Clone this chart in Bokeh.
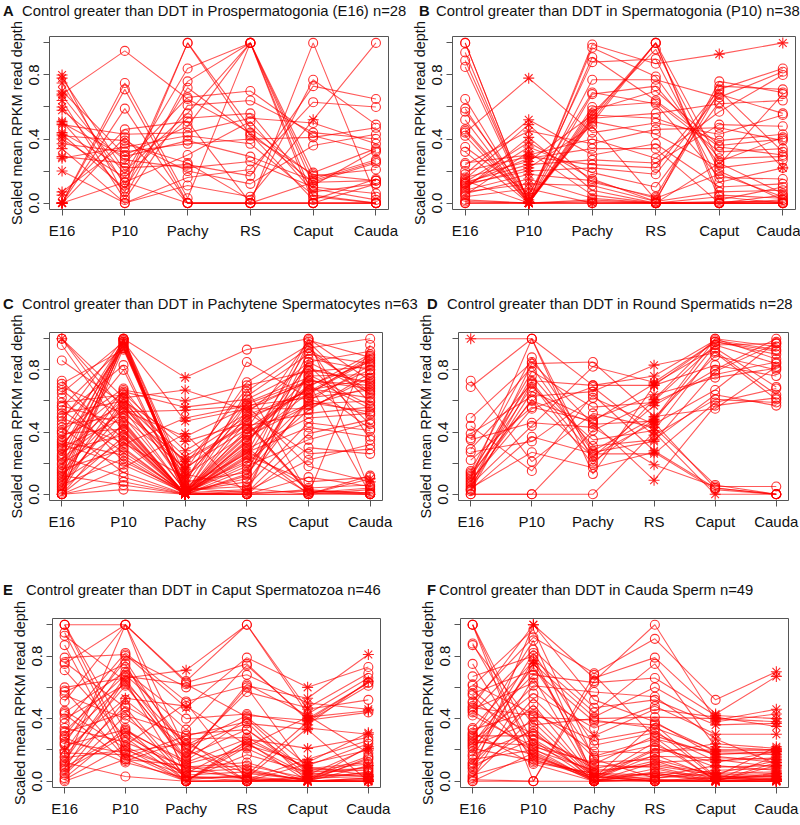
from bokeh.plotting import figure
from bokeh.models import Range1d, FixedTicker, PrintfTickFormatter, Div
from bokeh.layouts import column, row
from bokeh.embed import file_html
from bokeh.resources import INLINE

STAGES = ["E16", "P10", "Pachy", "RS", "Caput", "Cauda"]
Y_MAJOR = [0.0, 0.4, 0.8]
Y_MINOR = [0.2, 0.6, 1.0]
Y_LABEL = "Scaled mean RPKM read depth"

# ---------------- Panel A ----------------
A_TITLE = "Control greater than DDT in Prospermatogonia (E16) n=28"
A_ROWS = [
    [0.80, 0.04, 0.76, 1.00, 0.15, 0.27], [0.78, 0.20, 0.56, 1.00, 0.11, 0.33],
    [0.75, 0.11, 1.00, 0.42, 0.18, 0.14], [0.70, 0.30, 0.48, 1.00, 0.04, 0.00],
    [0.68, 0.95, 0.65, 0.44, 0.13, 0.25], [0.67, 0.18, 0.84, 1.00, 0.19, 0.34],
    [0.64, 0.02, 0.61, 0.64, 0.44, 0.40], [0.60, 0.13, 0.30, 0.51, 0.07, 0.12],
    [0.58, 0.27, 0.22, 0.26, 0.10, 0.06], [0.51, 0.07, 1.00, 0.47, 0.17, 0.21],
    [0.50, 0.29, 0.39, 0.29, 0.14, 0.26], [0.49, 0.43, 0.44, 0.53, 0.50, 0.37],
    [0.44, 0.22, 0.24, 0.17, 0.73, 0.65], [0.43, 0.09, 0.72, 0.43, 0.02, 0.15],
    [0.42, 0.39, 0.20, 0.12, 0.36, 0.43], [0.40, 0.16, 0.53, 0.56, 0.09, 0.02],
    [0.37, 0.32, 0.37, 0.40, 0.41, 0.47], [0.34, 0.00, 0.16, 0.21, 0.63, 0.60],
    [0.29, 0.25, 0.66, 0.70, 0.42, 0.32], [0.28, 0.35, 0.42, 0.37, 0.05, 0.00],
    [0.20, 0.00, 0.11, 0.04, 0.52, 1.00], [0.07, 0.37, 0.25, 0.02, 0.77, 0.49],
    [0.05, 0.46, 0.51, 0.00, 1.00, 0.04], [0.00, 0.75, 0.03, 1.00, 0.00, 0.00],
    [0.00, 0.71, 0.00, 0.00, 0.13, 0.14], [0.00, 0.59, 0.00, 0.00, 0.00, 0.00],
    [0.00, 0.41, 0.00, 0.00, 0.00, 0.12], [0.00, 0.13, 0.00, 0.00, 0.00, 0.00],
]
A_STAR_COLS = [0]
A_STAR_EXTRA = [(20, 4)]
A_STAR_SKIP = []

# ---------------- Panel B ----------------
B_TITLE = "Control greater than DDT in Spermatogonia (P10) n=38"
B_ROWS = [
    [1.00, 0.00, 0.54, 1.00, 0.26, 0.41], [1.00, 0.00, 0.99, 0.87, 0.93, 1.00],
    [0.94, 0.00, 0.91, 0.64, 0.35, 0.30], [0.89, 0.01, 0.52, 1.00, 0.05, 0.03],
    [0.85, 0.00, 0.97, 0.79, 0.24, 0.68], [0.65, 0.00, 0.56, 0.96, 0.20, 0.02],
    [0.59, 0.00, 0.77, 0.77, 0.66, 0.82], [0.57, 0.04, 0.88, 0.90, 0.13, 0.22],
    [0.52, 0.00, 0.60, 0.63, 0.32, 0.34], [0.46, 0.02, 0.50, 1.00, 0.02, 0.10],
    [0.45, 0.00, 0.68, 0.73, 0.28, 0.29], [0.44, 0.78, 0.44, 0.50, 0.43, 0.55],
    [0.42, 0.00, 0.58, 0.70, 0.36, 0.40], [0.35, 0.06, 0.69, 0.62, 0.16, 0.15],
    [0.32, 0.00, 0.53, 0.56, 0.62, 0.64], [0.25, 0.30, 0.40, 0.28, 0.57, 0.80],
    [0.24, 0.45, 0.37, 0.46, 0.47, 0.39], [0.20, 0.29, 0.24, 0.22, 0.71, 0.84],
    [0.18, 0.52, 0.30, 0.37, 0.10, 0.12], [0.16, 0.26, 0.55, 0.53, 0.39, 0.43],
    [0.15, 0.49, 0.13, 0.04, 0.73, 0.71], [0.14, 0.00, 0.51, 0.43, 0.22, 0.27],
    [0.13, 0.24, 0.27, 0.25, 0.49, 0.48], [0.13, 0.38, 0.15, 0.01, 0.76, 0.69],
    [0.12, 0.20, 0.22, 0.18, 0.68, 0.56], [0.12, 0.28, 0.34, 0.34, 0.00, 0.05],
    [0.11, 0.22, 0.48, 0.02, 0.70, 0.32], [0.10, 0.35, 0.19, 0.10, 0.63, 0.22],
    [0.09, 0.41, 0.08, 0.00, 0.25, 0.06], [0.08, 0.18, 0.14, 0.03, 0.18, 0.04],
    [0.07, 0.12, 0.11, 0.01, 0.07, 0.08], [0.06, 0.15, 0.03, 0.00, 0.04, 0.00],
    [0.05, 0.32, 0.05, 0.00, 0.01, 0.01], [0.04, 0.09, 0.00, 0.00, 0.00, 0.00],
    [0.02, 0.00, 0.02, 0.00, 0.00, 0.02], [0.01, 0.00, 0.01, 0.00, 0.00, 0.00],
    [0.00, 0.00, 0.00, 0.00, 0.00, 0.00], [0.00, 0.00, 0.00, 0.00, 0.00, 0.00],
]
B_STAR_COLS = [1]
B_STAR_EXTRA = [(1, 4), (1, 5), (27, 5), (33, 2)]
B_STAR_SKIP = []

# ---------------- Panel C ----------------
C_TITLE = "Control greater than DDT in Pachytene Spermatocytes n=63"
C_ROWS = [
    [1.00, 0.55, 0.02, 0.33, 0.83, 0.45], [1.00, 0.47, 0.00, 0.51, 0.66, 0.87],
    [1.00, 0.62, 0.05, 0.26, 1.00, 0.02], [0.96, 0.40, 0.01, 0.58, 0.73, 0.70],
    [0.86, 0.58, 0.13, 0.04, 0.00, 0.96], [0.73, 0.30, 0.00, 0.66, 0.94, 0.64],
    [0.71, 0.93, 0.03, 0.21, 0.60, 0.83], [0.69, 0.52, 0.22, 0.45, 0.01, 0.00],
    [0.67, 0.36, 0.00, 0.12, 0.77, 0.57], [0.65, 0.98, 0.47, 0.55, 0.55, 0.75],
    [0.62, 0.21, 0.02, 0.38, 0.69, 0.90], [0.59, 0.64, 0.15, 0.72, 0.96, 0.35],
    [0.57, 0.45, 0.00, 0.29, 0.49, 0.52], [0.56, 0.95, 0.06, 0.85, 0.62, 0.67],
    [0.54, 0.27, 0.01, 0.00, 0.87, 0.80], [0.52, 0.60, 0.34, 0.46, 0.02, 0.01],
    [0.50, 0.83, 0.00, 0.16, 0.71, 0.42], [0.49, 0.33, 0.11, 0.53, 0.26, 0.29],
    [0.47, 1.00, 0.75, 0.93, 1.00, 0.73], [0.45, 0.50, 0.03, 0.40, 0.58, 0.60],
    [0.43, 0.14, 0.00, 0.24, 0.85, 0.92], [0.41, 0.68, 0.19, 0.68, 0.00, 0.12],
    [0.40, 0.94, 0.04, 0.01, 0.39, 0.48], [0.39, 0.42, 0.00, 0.35, 0.65, 0.86],
    [0.37, 0.57, 0.09, 0.59, 0.75, 0.55], [0.35, 0.99, 0.02, 0.10, 0.92, 0.66],
    [0.34, 0.25, 0.00, 0.47, 0.01, 0.00], [0.33, 0.66, 0.56, 0.61, 0.81, 0.71],
    [0.32, 0.19, 0.01, 0.20, 0.54, 0.78], [0.31, 0.80, 0.00, 0.00, 0.30, 0.26],
    [0.30, 0.49, 0.17, 0.42, 0.68, 0.62], [0.29, 0.97, 0.05, 0.63, 0.90, 0.84],
    [0.28, 0.38, 0.00, 0.30, 0.00, 0.10], [0.26, 0.61, 0.24, 0.50, 0.64, 0.89],
    [0.25, 1.00, 0.08, 0.14, 0.98, 0.59], [0.24, 0.11, 0.00, 0.02, 0.22, 0.32],
    [0.23, 0.54, 0.37, 0.56, 0.72, 0.00], [0.22, 0.96, 0.01, 0.37, 0.57, 0.69],
    [0.20, 0.44, 0.00, 0.27, 0.43, 0.37], [0.19, 0.67, 0.60, 0.70, 0.79, 0.82],
    [0.17, 1.00, 0.02, 0.08, 0.61, 0.51], [0.16, 0.29, 0.00, 0.23, 0.01, 0.04],
    [0.15, 0.56, 0.16, 0.48, 0.67, 0.74], [0.14, 0.95, 0.03, 0.05, 0.46, 0.41],
    [0.13, 0.41, 0.00, 0.34, 0.76, 0.77], [0.12, 0.06, 0.00, 0.00, 0.00, 0.03],
    [0.11, 0.65, 0.28, 0.52, 0.85, 0.65], [0.10, 0.99, 0.01, 0.18, 0.35, 0.46],
    [0.09, 0.34, 0.00, 0.13, 0.59, 0.53], [0.08, 0.53, 0.54, 0.57, 0.18, 0.08],
    [0.07, 1.00, 0.12, 0.39, 0.70, 0.85], [0.06, 0.23, 0.00, 0.28, 0.04, 0.06],
    [0.05, 0.59, 0.21, 0.44, 0.52, 0.56], [0.04, 0.97, 0.01, 0.03, 0.80, 0.72],
    [0.03, 0.37, 0.00, 0.25, 0.08, 0.11], [0.02, 0.62, 0.67, 0.54, 0.73, 0.68],
    [0.01, 0.94, 0.02, 0.31, 0.94, 1.00], [0.00, 0.46, 0.00, 0.00, 0.03, 0.00],
    [0.00, 0.17, 0.39, 0.00, 0.11, 0.05], [0.00, 0.98, 0.00, 0.42, 0.99, 0.88],
    [0.00, 0.03, 0.00, 0.01, 0.02, 0.01], [0.00, 0.32, 0.49, 0.57, 0.62, 0.80],
    [0.00, 0.08, 0.00, 0.00, 0.00, 0.00],
]
C_STAR_COLS = [2]
C_STAR_EXTRA = [(0, 0), (32, 5), (49, 5)]
C_STAR_SKIP = []

# ---------------- Panel D ----------------
D_TITLE = "Control greater than DDT in Round Spermatids n=28"
D_ROWS = [
    [1.00, 1.00, 0.21, 0.48, 1.00, 0.95], [0.73, 0.21, 0.52, 0.43, 0.06, 0.00],
    [0.69, 1.00, 0.70, 0.70, 0.98, 0.92], [0.49, 0.85, 0.45, 0.47, 0.96, 0.84],
    [0.44, 0.15, 0.64, 0.28, 0.04, 0.00], [0.39, 0.63, 0.66, 0.83, 0.91, 0.61],
    [0.36, 0.82, 0.27, 0.34, 0.79, 0.97], [0.35, 0.46, 0.43, 0.19, 0.05, 0.05],
    [0.29, 0.71, 0.19, 0.61, 1.00, 0.87], [0.27, 0.34, 0.62, 0.45, 0.67, 0.98],
    [0.22, 0.56, 0.47, 0.71, 0.94, 0.69], [0.15, 0.88, 0.28, 0.49, 0.89, 0.80],
    [0.14, 0.73, 0.70, 0.76, 0.99, 0.93], [0.13, 0.60, 0.46, 0.09, 0.57, 0.62],
    [0.12, 0.79, 0.56, 0.59, 0.77, 0.85], [0.11, 0.69, 0.35, 0.41, 0.92, 0.64],
    [0.10, 1.00, 0.13, 0.70, 0.83, 0.76], [0.09, 0.55, 0.69, 0.38, 0.61, 0.59],
    [0.08, 0.61, 0.24, 0.57, 0.80, 1.00], [0.07, 0.76, 0.31, 0.35, 0.64, 0.57],
    [0.06, 0.44, 0.82, 0.72, 0.98, 0.90], [0.05, 0.66, 0.48, 0.64, 0.75, 0.81],
    [0.04, 0.27, 0.17, 0.27, 0.03, 0.00], [0.03, 0.37, 0.26, 0.26, 0.59, 0.68],
    [0.03, 0.84, 0.85, 0.50, 0.55, 0.82], [0.02, 0.72, 0.25, 0.46, 0.04, 0.00],
    [0.00, 0.00, 0.41, 0.60, 0.96, 0.97], [0.00, 0.00, 0.00, 0.40, 0.00, 0.00],
]
D_STAR_COLS = [3]
D_STAR_EXTRA = [(0, 0), (27, 4)]
D_STAR_SKIP = []

# ---------------- Panel E ----------------
E_TITLE = "Control greater than DDT in Caput Spermatozoa n=46"
E_ROWS = [
    [1.00, 0.22, 0.05, 0.25, 0.00, 0.10], [1.00, 0.32, 0.13, 0.40, 0.05, 0.03],
    [1.00, 1.00, 0.01, 0.04, 0.38, 0.61], [0.95, 0.19, 0.24, 0.07, 0.00, 0.02],
    [0.93, 0.64, 0.00, 0.22, 0.41, 0.45], [0.87, 0.14, 0.10, 0.01, 0.00, 0.00],
    [0.79, 0.81, 0.47, 0.79, 0.60, 0.73], [0.76, 0.47, 0.03, 0.00, 0.11, 0.20],
    [0.75, 1.00, 0.20, 0.05, 0.01, 0.06], [0.71, 0.28, 0.00, 0.26, 0.09, 0.04],
    [0.60, 0.66, 0.71, 1.00, 0.43, 0.66], [0.58, 0.15, 0.29, 0.38, 0.00, 0.01],
    [0.57, 0.75, 0.07, 0.02, 0.34, 0.30], [0.55, 0.40, 0.16, 0.33, 0.07, 0.11],
    [0.51, 1.00, 0.64, 1.00, 0.46, 0.52], [0.45, 0.21, 0.00, 0.24, 0.04, 0.09],
    [0.44, 0.70, 0.40, 0.43, 0.36, 0.64], [0.43, 0.13, 0.26, 0.00, 0.02, 0.16],
    [0.40, 0.62, 0.12, 0.27, 0.21, 0.28], [0.37, 0.82, 0.51, 0.61, 0.53, 0.81],
    [0.34, 0.25, 0.09, 0.12, 0.00, 0.00], [0.32, 0.68, 0.33, 0.74, 0.40, 0.63],
    [0.31, 0.44, 0.01, 0.17, 0.06, 0.07], [0.29, 0.77, 0.18, 0.57, 0.47, 0.69],
    [0.28, 0.12, 0.02, 0.03, 0.00, 0.22], [0.27, 0.63, 0.23, 0.42, 0.39, 0.44],
    [0.25, 0.18, 0.00, 0.01, 0.14, 0.26], [0.24, 0.80, 0.60, 0.68, 0.50, 0.46],
    [0.23, 0.33, 0.11, 0.21, 0.03, 0.05], [0.20, 0.53, 0.48, 0.23, 0.12, 0.31],
    [0.19, 0.73, 0.22, 0.37, 0.33, 0.00], [0.18, 0.17, 0.04, 0.06, 0.01, 0.14],
    [0.16, 0.61, 0.14, 0.62, 0.42, 0.18], [0.15, 0.20, 0.06, 0.08, 0.00, 0.02],
    [0.13, 0.67, 0.62, 0.41, 0.10, 0.24], [0.12, 0.03, 0.00, 0.00, 0.00, 0.00],
    [0.11, 0.48, 0.27, 0.28, 0.08, 0.12], [0.10, 1.00, 0.63, 0.75, 0.39, 0.63],
    [0.09, 0.31, 0.03, 0.02, 0.00, 0.15], [0.08, 0.65, 0.15, 0.60, 0.07, 0.08],
    [0.07, 0.29, 0.08, 0.10, 0.02, 0.03], [0.05, 0.52, 0.21, 0.00, 0.00, 0.00],
    [0.04, 0.42, 0.30, 0.33, 0.04, 0.21], [0.02, 0.34, 0.00, 0.00, 0.03, 0.04],
    [0.01, 0.23, 0.50, 0.01, 0.00, 0.01], [0.00, 0.14, 0.00, 0.00, 0.00, 0.00],
]
E_STAR_COLS = [4]
E_STAR_EXTRA = [(10, 2), (6, 2), (29, 1), (29, 0), (19, 5), (16, 5), (4, 5),
                (27, 5), (29, 5), (12, 5), (7, 5), (42, 5), (24, 5), (0, 5),
                (1, 5), (5, 5), (9, 5), (11, 5), (20, 5), (35, 5), (41, 5),
                (43, 5), (44, 5), (45, 5)]
E_STAR_SKIP = []

# ---------------- Panel F ----------------
F_TITLE = "Control greater than DDT in Cauda Sperm n=49"
F_ROWS = [
    [1.00, 0.14, 0.02, 0.05, 0.01, 0.04], [1.00, 0.24, 0.11, 0.29, 0.17, 0.19],
    [1.00, 0.00, 0.64, 1.00, 0.39, 0.46], [0.88, 0.21, 0.00, 0.08, 0.00, 0.02],
    [0.87, 0.36, 0.40, 0.41, 0.40, 0.38], [0.75, 0.12, 0.05, 0.01, 0.00, 0.10],
    [0.67, 0.80, 0.01, 0.20, 0.20, 0.20], [0.62, 0.43, 0.26, 0.33, 0.02, 0.01],
    [0.61, 0.97, 0.14, 0.02, 0.05, 0.13], [0.58, 0.26, 0.00, 0.12, 0.14, 0.09],
    [0.56, 0.71, 0.38, 0.36, 0.03, 0.22], [0.55, 0.16, 0.03, 0.00, 0.00, 0.00],
    [0.51, 0.92, 0.69, 0.91, 0.52, 0.70], [0.50, 0.30, 0.08, 0.16, 0.15, 0.14],
    [0.48, 1.00, 0.66, 0.79, 0.43, 0.67], [0.47, 0.42, 0.02, 0.25, 0.01, 0.05],
    [0.46, 0.63, 0.29, 0.46, 0.41, 0.35], [0.45, 0.19, 0.01, 0.03, 0.10, 0.07],
    [0.44, 0.84, 0.47, 0.52, 0.36, 0.37], [0.42, 0.22, 0.12, 0.14, 0.04, 0.00],
    [0.34, 0.77, 0.04, 0.00, 0.00, 0.12], [0.33, 0.45, 0.19, 0.18, 0.24, 0.21],
    [0.31, 0.11, 0.00, 0.06, 0.03, 0.03], [0.30, 0.68, 0.63, 0.66, 0.42, 0.40],
    [0.29, 0.29, 0.10, 0.09, 0.01, 0.16], [0.28, 0.90, 0.02, 0.37, 0.19, 0.18],
    [0.27, 0.17, 0.00, 0.01, 0.00, 0.01], [0.26, 0.56, 0.34, 0.48, 0.30, 0.30],
    [0.25, 0.23, 0.06, 0.11, 0.05, 0.06], [0.24, 0.73, 0.16, 0.27, 0.18, 0.17],
    [0.23, 0.38, 0.01, 0.00, 0.02, 0.02], [0.22, 0.61, 0.57, 0.54, 0.27, 0.11],
    [0.21, 0.13, 0.05, 0.04, 0.00, 0.00], [0.19, 0.82, 0.23, 0.31, 0.13, 0.15],
    [0.17, 0.32, 0.00, 0.02, 0.07, 0.08], [0.16, 0.75, 0.41, 0.60, 0.38, 0.43],
    [0.14, 0.20, 0.07, 0.10, 0.04, 0.05], [0.12, 0.49, 0.02, 0.21, 0.12, 0.19],
    [0.11, 0.78, 0.44, 0.75, 0.22, 0.20], [0.10, 0.27, 0.04, 0.13, 0.01, 0.01],
    [0.09, 0.53, 0.15, 0.23, 0.09, 0.10], [0.08, 0.34, 0.00, 0.01, 0.00, 0.00],
    [0.06, 1.00, 0.52, 0.38, 0.16, 0.12], [0.04, 0.15, 0.03, 0.00, 0.03, 0.04],
    [0.03, 0.41, 0.39, 0.34, 0.20, 0.20], [0.02, 0.66, 0.01, 0.17, 0.02, 0.03],
    [0.01, 0.00, 0.68, 0.28, 0.00, 0.00], [0.00, 0.18, 0.00, 0.05, 0.00, 0.01],
    [0.00, 0.00, 0.00, 0.00, 0.00, 0.00],
]
F_STAR_COLS = [4, 5]
F_STAR_EXTRA = [(14, 1), (42, 1), (35, 1), (20, 1), (16, 2)]
F_STAR_SKIP = [(12, 4)]

RED = "#ff0000"
FONT = "Liberation Sans"
INK = "#111111"
GREY = "#555555"
X0, X1, Y0, Y1 = 0.8, 6.2, -0.04, 1.04


def make_panel(rows, star_cols, star_extra, star_skip, geo):
    # geo: borders (l, t, r, b), frame (w, h)
    bl, bt, br, bb, fw, fh = geo
    p = figure(frame_width=fw, frame_height=fh,
               min_border_left=bl, min_border_top=bt, min_border_right=br, min_border_bottom=bb,
               x_range=Range1d(X0, X1), y_range=Range1d(Y0, Y1),
               output_backend="svg", toolbar_location=None, tools="")
    p.grid.visible = False
    p.outline_line_color = GREY
    p.outline_line_width = 1
    p.background_fill_color = "white"
    p.border_fill_color = "white"

    xpos = list(range(1, len(STAGES) + 1))
    p.multi_line(xs=[xpos for _ in rows], ys=[list(r) for r in rows],
                 line_color=RED, line_alpha=0.65, line_width=1.1)

    extra = set(star_extra)
    skip = set(star_skip)
    cx, cy, sx, sy = [], [], [], []
    for i, r in enumerate(rows):
        for j, v in enumerate(r):
            is_star = ((j in star_cols) or ((i, j) in extra)) and ((i, j) not in skip)
            if is_star:
                sx.append(xpos[j]); sy.append(v)
            else:
                cx.append(xpos[j]); cy.append(v)
    p.scatter(cx, cy, marker="circle", size=9, fill_color=None,
              line_color=RED, line_alpha=0.8, line_width=1.1)
    p.scatter(sx, sy, marker="asterisk", size=11,
              line_color=RED, line_alpha=0.85, line_width=1.1)

    xa = p.xaxis[0]
    xa.ticker = FixedTicker(ticks=xpos)
    xa.major_label_overrides = {i + 1: s for i, s in enumerate(STAGES)}
    ya = p.yaxis[0]
    ya.ticker = FixedTicker(ticks=Y_MAJOR, minor_ticks=Y_MINOR)
    ya.formatter = PrintfTickFormatter(format="%.1f")
    ya.major_label_orientation = "vertical"
    ya.axis_label = Y_LABEL
    ya.axis_label_text_font = FONT
    ya.axis_label_text_font_size = "14.5px"
    ya.axis_label_text_font_style = "normal"
    ya.axis_label_text_color = INK
    ya.axis_label_standoff = 2
    ya.minor_tick_out = 6
    ya.minor_tick_in = 0
    ya.minor_tick_line_color = GREY
    for ax in (xa, ya):
        ax.axis_line_color = None
        ax.major_tick_out = 6
        ax.major_tick_in = 0
        ax.major_tick_line_color = GREY
        ax.major_label_text_font = FONT
        ax.major_label_text_font_size = "15px"
        ax.major_label_text_color = INK
    xa.major_label_standoff = 6
    ya.major_label_standoff = 4
    return p


def title_strip(height, top, items):
    # items: (letter, letter_x, title, title_x)
    spans = []
    base = ("position:absolute;top:%dpx;white-space:nowrap;line-height:17px;"
            "font-family:'Liberation Sans',Arial,sans-serif;font-size:14.8px;color:%s;" % (top, INK))
    for letter, lx, title, tx in items:
        spans.append('<span style="%sleft:%dpx;font-weight:bold;">%s</span>' % (base, lx, letter))
        spans.append('<span style="%sleft:%dpx;">%s</span>' % (base, tx, title))
    html = ('<div style="position:relative;width:800px;height:%dpx;overflow:hidden;">%s</div>'
            % (height, "".join(spans)))
    return Div(text=html, width=800, height=height, margin=0)


pA = make_panel(A_ROWS, A_STAR_COLS, A_STAR_EXTRA, A_STAR_SKIP, (49, 16, 12, 86, 339, 173))
pB = make_panel(B_ROWS, B_STAR_COLS, B_STAR_EXTRA, B_STAR_SKIP, (52, 16, 5, 86, 343, 173))
pC = make_panel(C_ROWS, C_STAR_COLS, C_STAR_EXTRA, C_STAR_SKIP, (49, 18, 18, 80, 333, 168))
pD = make_panel(D_ROWS, D_STAR_COLS, D_STAR_EXTRA, D_STAR_SKIP, (58, 18, 12, 80, 330, 168))
pE = make_panel(E_ROWS, E_STAR_COLS, E_STAR_EXTRA, E_STAR_SKIP, (52, 18, 20, 38, 328, 169))
pF = make_panel(F_ROWS, F_STAR_COLS, F_STAR_EXTRA, F_STAR_SKIP, (60, 18, 12, 38, 328, 169))

t1 = title_strip(20, 3, [("A", 3, A_TITLE, 22), ("B", 419, B_TITLE, 436)])
t2 = title_strip(19, 1, [("C", 3, C_TITLE, 22), ("D", 427, D_TITLE, 447)])
t3 = title_strip(20, 2, [("E", 3, E_TITLE, 26), ("F", 427, F_TITLE, 439)])

layout = column(t1, row(pA, pB), t2, row(pC, pD), t3, row(pE, pF))
open("out.html", "w").write(file_html(layout, INLINE))
